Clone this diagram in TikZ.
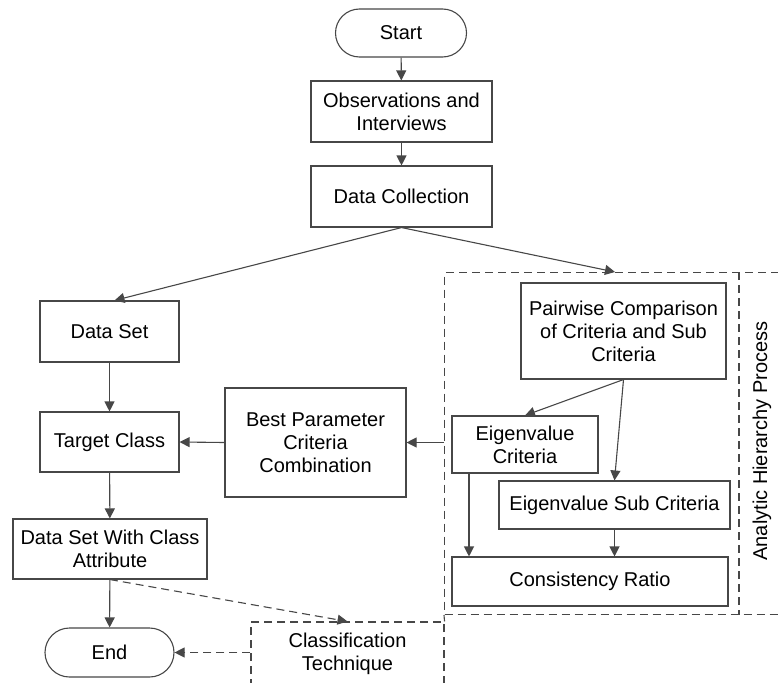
\documentclass[tikz,border=0pt]{standalone}
\usepackage{fontspec}
\setmainfont{Liberation Sans}
\usetikzlibrary{arrows.meta,shapes.misc}
\definecolor{linec}{HTML}{474747}
\begin{document}
\begin{tikzpicture}[x=1pt,y=-1pt,
  font=\fontsize{20}{23}\selectfont,
  box/.style={draw=linec, line width=1.1pt, inner sep=0pt, align=center, text=black},
  term/.style={box, rounded rectangle},
  arr/.style={draw=linec, line width=1.1pt, -{Triangle[length=10pt,width=10pt]}},
  dasharr/.style={arr, dash pattern=on 8pt off 5pt},
  dbox/.style={draw=linec, line width=1.1pt, dash pattern=on 8pt off 5pt, inner sep=0pt, align=center},
  dline/.style={draw=linec, line width=1.1pt, dash pattern=on 8pt off 5pt}]
\useasboundingbox (0,0) rectangle (778,682);
\clip (0,0) rectangle (778,682);

% left column
\node[term, minimum width=131pt, minimum height=48pt] (start) at (401,33) {Start};
\node[box, minimum width=181pt, minimum height=61pt] (obs) at (401.5,111.5) {Observations and\\Interviews};
\node[box, minimum width=181pt, minimum height=61pt] (dc) at (401.5,196.5) {Data Collection};
\node[box, minimum width=139pt, minimum height=61pt] (ds) at (109.5,331.5) {Data Set};
\node[box, minimum width=139pt, minimum height=60pt] (tc) at (109.5,442) {Target Class};
\node[box, minimum width=181pt, minimum height=109pt] (bp) at (315.5,442.5) {Best Parameter\\Criteria\\Combination};
\node[box, minimum width=194pt, minimum height=60pt] (dswca) at (110,549) {Data Set With Class\\Attribute};
\node[term, minimum width=129pt, minimum height=49pt] (end) at (109.5,652.5) {End};

% AHP frame
\node[dbox, minimum width=360pt, minimum height=342pt, anchor=north west] (ahp) at (444,272) {};
\draw[dline] ([xshift=295pt]ahp.north west) -- ([xshift=295pt]ahp.south west);
\node[rotate=90] (ahplabel) at (762,441) {Analytic Hierarchy Process};
\coordinate (ahpin) at (615,272);

% classification
\node[dbox, minimum width=193pt, minimum height=64pt] (ct) at (347.5,654) {Classification\\Technique};
\draw[dline] (ahp.south west) -- (ct.north east);

% AHP inner
\node[box, minimum width=205pt, minimum height=96pt] (pw) at (623.5,331) {Pairwise Comparison\\of Criteria and Sub\\Criteria};
\node[box, minimum width=146pt, minimum height=57pt] (ec) at (525,444.5) {Eigenvalue\\Criteria};
\node[box, minimum width=231pt, minimum height=48pt] (esc) at (614.5,505) {Eigenvalue Sub Criteria};
\node[box, minimum width=276pt, minimum height=49pt] (cr) at (590,581.5) {Consistency Ratio};

% connectors
\draw[arr] (start) -- (obs);
\draw[arr] (obs) -- (dc);
\draw[arr] (dc.south) -- ([xshift=5pt]ds.north);
\draw[arr] (dc.south) -- (ahpin);
\draw[arr] (ds) -- (tc);
\draw[arr] (tc) -- (dswca);
\draw[arr] (dswca) -- (end);
\draw[arr] (ahp.west |- bp.east) -- (bp.east);
\draw[arr] (bp.west) -- (tc.east);
\draw[dasharr] (dswca.south) -- (ct.north);
\draw[dasharr] (ct.west |- end.east) -- (end.east);
\draw[arr] (pw.south) -- (ec.north);
\draw[arr] (pw.south) -- (esc.north);
\draw[arr] ([xshift=-56pt]ec.south) -- ([xshift=-56pt]ec.south |- cr.north);
\draw[arr] (esc.south) -- (esc.south |- cr.north);
\end{tikzpicture}
\end{document}
